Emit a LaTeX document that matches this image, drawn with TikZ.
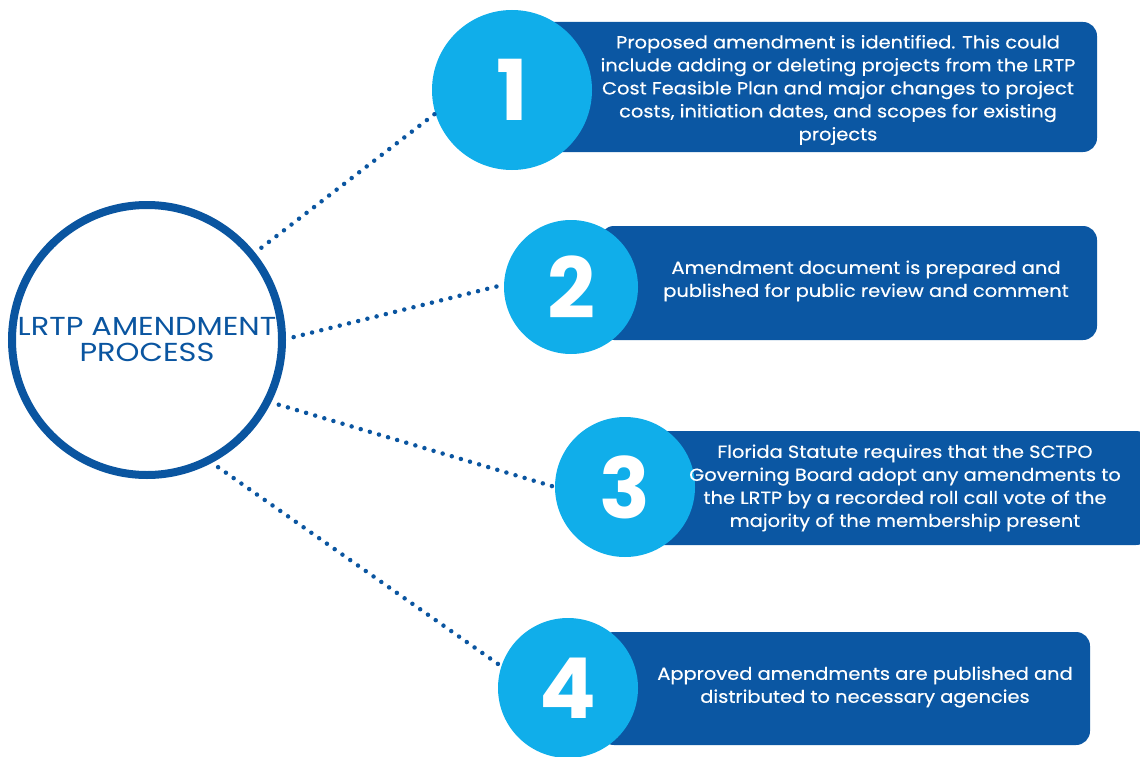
\documentclass[tikz,border=0pt]{standalone}
\usepackage{fontspec}
\setmainfont{Poppins}
\newfontfamily\bodyfont[FakeStretch=1.11,FakeBold=0.4]{Poppins}
\newfontfamily\titlefont[FakeStretch=1.17]{Poppins}
\definecolor{dblue}{HTML}{0B57A3}
\definecolor{lblue}{HTML}{10AEEA}
\definecolor{mblue}{HTML}{0A55A0}
\begin{document}
\begin{tikzpicture}[x=1pt,y=-1pt,
  stepcircle/.style={circle,fill=lblue,inner sep=0pt,outer sep=0pt,text=white,font=\fontsize{84}{84}\selectfont\bfseries},
  stepbox/.style={fill=dblue,rounded corners=14pt},
  steptext/.style={text=white,align=center,font=\bodyfont\fontsize{17.5}{23}\selectfont},
  dots/.style={mblue,line width=4.5pt,line cap=round,dash pattern=on 0pt off 9.5pt}]
\useasboundingbox (0,0) rectangle (1140,757);
% boxes
\fill[stepbox] (540,22) rectangle (1097,152);
\fill[stepbox] (600,226) rectangle (1097,340);
\fill[stepbox] (650,431) rectangle (1150,545);
\fill[stepbox] (600,632) rectangle (1090,745);
% circles
\node[stepcircle,minimum size=160pt] (c1) at (512,90) {1};
\node[stepcircle,minimum size=134pt] (c2) at (571,287) {2};
\node[stepcircle,minimum size=140pt] (c3) at (625,487) {3};
\node[stepcircle,minimum size=140pt] (c4) at (568,688) {4};
% texts
\node[steptext] (t1) at (838,90) {Proposed amendment is identified. This could\\include adding or deleting projects from the LRTP\\Cost Feasible Plan and major changes to project\\costs, initiation dates, and scopes for existing\\projects};
\node[steptext] (t2) at (866,281) {Amendment document is prepared and\\published for public review and comment};
\node[steptext] (t3) at (905,488) {Florida Statute requires that the SCTPO\\Governing Board adopt any amendments to\\the LRTP by a recorded roll call vote of the\\majority of the membership present};
\node[steptext] (t4) at (865,687) {Approved amendments are published and\\distributed to necessary agencies};
% main circle
\node[circle,draw=mblue,line width=8pt,minimum size=270pt,inner sep=0pt,outer sep=0pt,
  text=mblue,align=center,font=\titlefont\fontsize{26}{26}\selectfont] (m) at (147,340) {LRTP AMENDMENT\\PROCESS};
% dotted connectors
\draw[dots,shorten <=12pt] (m.39) -- (c1.197);
\draw[dots,shorten <=12pt] (m.0) -- (c2.178);
\draw[dots,shorten <=12pt] (m.-27) -- (c3.180);
\draw[dots,shorten <=12pt] (m.-63) -- (c4.162);
\end{tikzpicture}
\end{document}
